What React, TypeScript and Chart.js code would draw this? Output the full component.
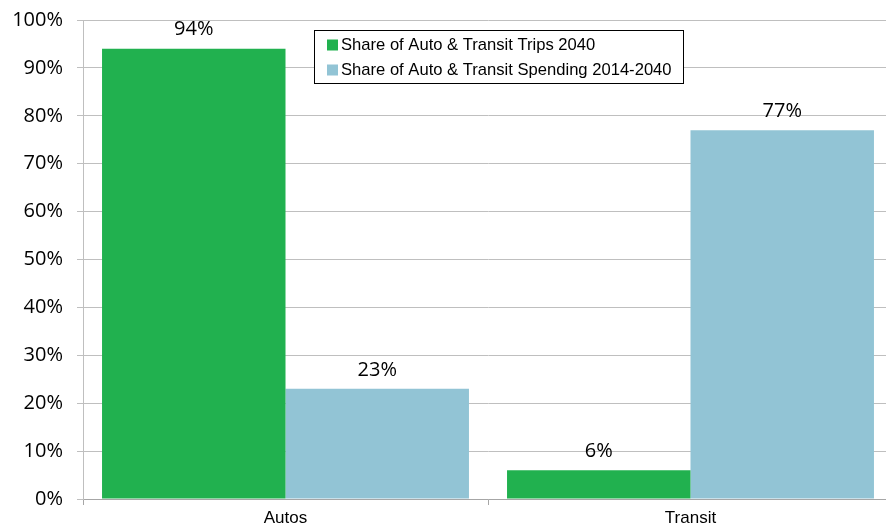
import React, { useEffect, useRef } from "react";
import { Chart, registerables } from "chart.js";

Chart.register(...registerables);

const categories = ["Autos", "Transit"];
const seriesNames = [
  "Share of Auto & Transit Trips 2040",
  "Share of Auto & Transit Spending 2014-2040",
];
const tripsShare = [94, 6];
const spendingShare = [23, 77];
const seriesColors = ["#21B14F", "#92C4D5"];

const dataLabelPlugin = {
  id: "dataLabels",
  afterDatasetsDraw(chart: any) {
    const ctx = chart.ctx;
    ctx.save();
    ctx.font = '20px "Open Sans", "Noto Sans", sans-serif';
    ctx.fillStyle = "#000";
    ctx.textAlign = "center";
    ctx.textBaseline = "middle";
    chart.data.datasets.forEach((ds: any, i: number) => {
      const meta = chart.getDatasetMeta(i);
      meta.data.forEach((bar: any, j: number) => {
        ctx.fillText(ds.data[j] + "%", bar.x, bar.y - 19);
      });
    });
    ctx.restore();
  },
};

const legendPlugin = {
  id: "boxLegend",
  afterDraw(chart: any) {
    const ctx = chart.ctx;
    ctx.save();
    const x = 314.5, y = 30.5, w = 369, h = 53;
    ctx.fillStyle = "#fff";
    ctx.fillRect(x, y, w, h);
    ctx.strokeStyle = "#000";
    ctx.lineWidth = 1;
    ctx.strokeRect(x, y, w, h);
    ctx.font = '16.6px "Liberation Sans", Arial, sans-serif';
    ctx.textBaseline = "middle";
    ctx.textAlign = "left";
    chart.data.datasets.forEach((ds: any, i: number) => {
      const cy = 45 + i * 25;
      ctx.fillStyle = ds.backgroundColor;
      ctx.fillRect(327, cy - 5.5, 11, 11);
      ctx.fillStyle = "#000";
      ctx.fillText(ds.label, 341, cy);
    });
    ctx.restore();
  },
};

export default function App() {
  const ref = useRef<HTMLCanvasElement>(null);
  useEffect(() => {
    const chart = new Chart(ref.current!, {
      type: "bar",
      data: {
        labels: categories,
        datasets: [
          { label: seriesNames[0], data: tripsShare, backgroundColor: seriesColors[0] },
          { label: seriesNames[1], data: spendingShare, backgroundColor: seriesColors[1] },
        ],
      },
      options: {
        animation: false,
        responsive: false,
        maintainAspectRatio: false,
        layout: { padding: { top: 20, right: 7, left: 0, bottom: 0 } },
        datasets: { bar: { categoryPercentage: 0.906, barPercentage: 1 } },
        plugins: { legend: { display: false }, tooltip: { enabled: false } },
        scales: {
          x: {
            grid: { drawOnChartArea: false, drawTicks: true, tickLength: 6, color: "#A6A6A6", offset: true },
            border: { display: true, color: "#A6A6A6" },
            ticks: { color: "#000", padding: 3, font: { family: '"Liberation Sans", Arial, sans-serif', size: 17 } },
            afterFit: (s: any) => { s.height = 28; s.paddingLeft = 0; s.paddingRight = 0; },
          },
          y: {
            min: 0,
            max: 100,
            ticks: {
              stepSize: 10,
              color: "#000",
              padding: 14,
              font: { family: '"Open Sans", "Noto Sans", sans-serif', size: 20 },
              callback: (v: any) => v + "%",
            },
            grid: { color: "#BFBFBF", tickLength: 6 },
            border: { display: true, color: "#BFBFBF" },
            afterFit: (s: any) => { s.width = 83; s.paddingTop = 0; s.paddingBottom = 0; },
          },
        },
      },
      plugins: [dataLabelPlugin, legendPlugin],
    });
    return () => chart.destroy();
  }, []);
  return (
    <div style={{ position: "fixed", left: 0, top: 0, width: 886, height: 527, overflow: "hidden", background: "#fff" }}>
      <canvas ref={ref} width={900} height={527} style={{ display: "block" }} />
    </div>
  );
}
